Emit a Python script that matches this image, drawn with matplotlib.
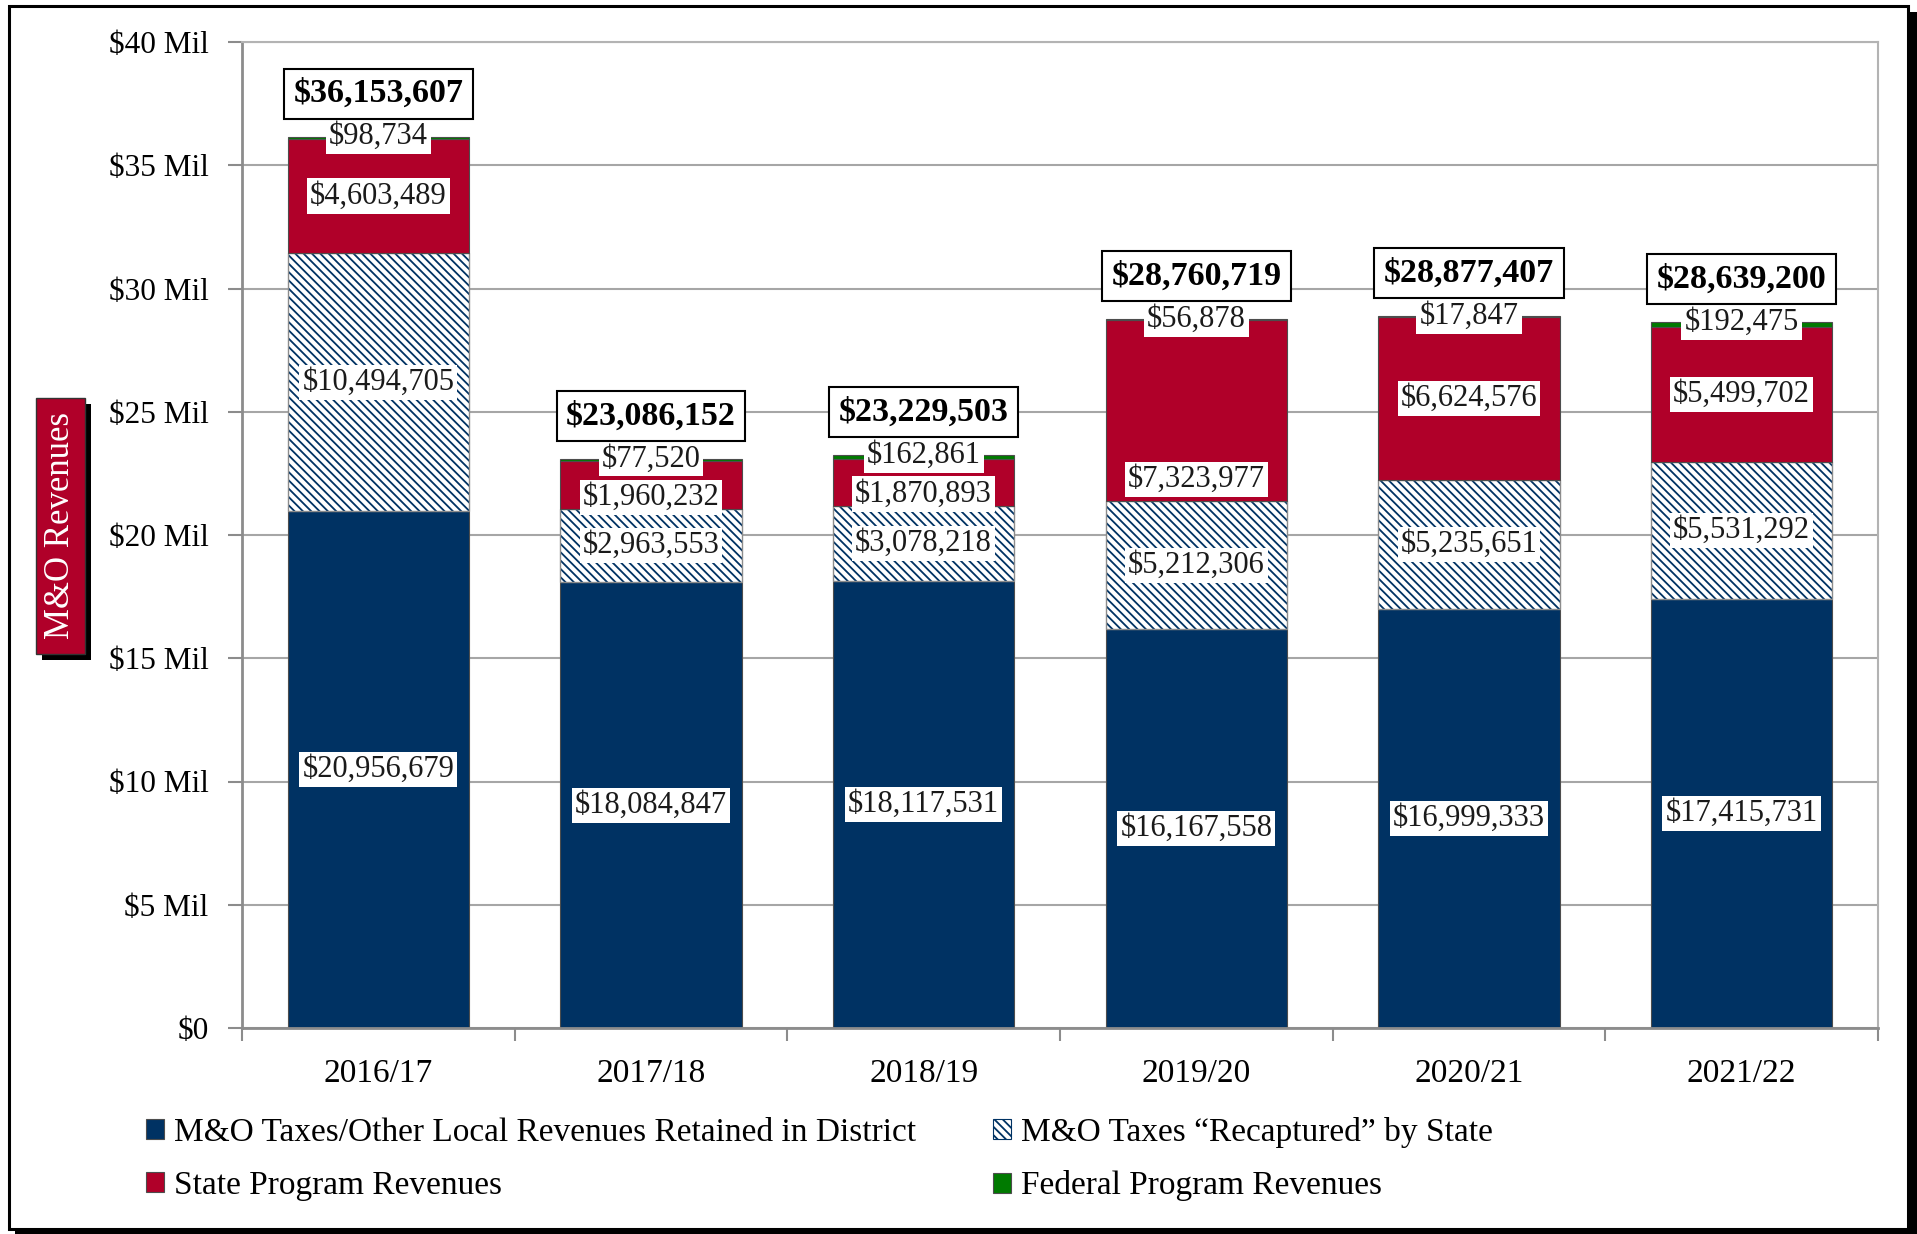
import matplotlib
matplotlib.use('Agg')
import matplotlib.pyplot as plt
import numpy as np
from matplotlib.patches import Rectangle, Patch

plt.rcParams['font.family'] = ['Liberation Serif', 'DejaVu Serif']
plt.rcParams['text.parse_math'] = False
plt.rcParams['hatch.linewidth'] = 1.3

years = ['2016/17', '2017/18', '2018/19', '2019/20', '2020/21', '2021/22']
local = [20956679, 18084847, 18117531, 16167558, 16999333, 17415731]
recaptured = [10494705, 2963553, 3078218, 5212306, 5235651, 5531292]
state = [4603489, 1960232, 1870893, 7323977, 6624576, 5499702]
federal = [98734, 77520, 162861, 56878, 17847, 192475]
totals = [36153607, 23086152, 23229503, 28760719, 28877407, 28639200]
# where the state label sits inside its segment (0 = base, 1 = top)
state_label_pos = [0.5, 0.25, 0.25, 0.12, 0.5, 0.5]

NAVY = '#003263'
RED = '#B00029'
GREEN = '#007A00'
GRID = '#A6A6A6'
HATCH = chr(92) * 4

W, H = 1917, 1234
fig = plt.figure(figsize=(W / 100, H / 100), dpi=100)


def fig_rect(x0, y0, x1, y1, **kw):
    # rectangle given in pixels from the top-left corner
    return Rectangle((x0 / W, 1 - y1 / H), (x1 - x0) / W, (y1 - y0) / H,
                     transform=fig.transFigure, **kw)


# outer frame with a drop shadow
fig.add_artist(fig_rect(15, 12, 1917, 1234, fc='black', ec='none', zorder=-3))
fig.add_artist(fig_rect(9, 6, 1908, 1229, fc='white', ec='black', lw=2.2, zorder=-2))

ax = fig.add_axes([242 / W, 1 - 1028 / H, (1878 - 242) / W, (1028 - 42) / H])
ax.patch.set_alpha(0)

x = np.arange(len(years))
w = 0.665
local = np.array(local)
recaptured = np.array(recaptured)
state = np.array(state)
federal = np.array(federal)
b2 = local + recaptured
b3 = b2 + state

ax.bar(x, local, w, color=NAVY, edgecolor='#4d4d4d', lw=0.8, zorder=2)
ax.bar(x, recaptured, w, bottom=local, color='white', edgecolor=NAVY, hatch=HATCH, lw=0, zorder=2)
ax.bar(x, recaptured, w, bottom=local, fill=False, edgecolor='#8c8c8c', lw=1, zorder=2)
ax.bar(x, state, w, bottom=b2, color=RED, edgecolor='#4d4d4d', lw=0.8, zorder=2)
ax.bar(x, federal, w, bottom=b3, color=GREEN, edgecolor='#4d4d4d', lw=0.8, zorder=2)

lab_kw = dict(ha='center', va='center', fontsize=22, color='#1a1a1a', zorder=5,
              bbox=dict(boxstyle='square,pad=0.1', fc='white', ec='none'))
for i in range(len(years)):
    ax.text(x[i], local[i] / 2, f'${local[i]:,}', **lab_kw)
    ax.text(x[i], local[i] + recaptured[i] / 2, f'${recaptured[i]:,}', **lab_kw)
    ax.text(x[i], b2[i] + state[i] * state_label_pos[i], f'${state[i]:,}', **lab_kw)
    ax.text(x[i], b3[i] + federal[i], f'${federal[i]:,}', **lab_kw)
    ax.text(x[i], totals[i] + 1.75e6, f'${totals[i]:,}', ha='center', va='center',
            fontsize=24.5, fontweight='bold', zorder=6,
            bbox=dict(boxstyle='square,pad=0.28', fc='white', ec='black', lw=1.5))

ax.set_xlim(-0.5, 5.5)
ax.set_ylim(0, 40e6)
ax.set_yticks(np.arange(0, 40e6 + 1, 5e6))
ax.set_yticklabels(['$0'] + [f'${v} Mil' for v in range(5, 41, 5)])
ax.set_xticks(x)
ax.set_xticklabels(years)
ax.set_xticks(np.arange(-0.5, 6, 1), minor=True)
ax.tick_params(axis='x', which='major', length=0, pad=22, labelsize=24)
ax.tick_params(axis='x', which='minor', length=9, width=1.5, color='#8c8c8c')
ax.tick_params(axis='y', length=10, width=1.5, color='#8c8c8c', pad=14, labelsize=22.5)
ax.yaxis.grid(True, color=GRID, lw=1.5)
ax.set_axisbelow(True)
for s in ['left', 'bottom']:
    ax.spines[s].set_color('#8c8c8c')
    ax.spines[s].set_linewidth(2)
for s in ['top', 'right']:
    ax.spines[s].set_color('#b3b3b3')
    ax.spines[s].set_linewidth(1.5)

# y axis title in a red box with a black shadow
fig.add_artist(fig_rect(42, 404, 91, 660, fc='black', ec='none', zorder=3))
fig.add_artist(fig_rect(36, 398, 85, 654, fc=RED, ec='#333333', lw=1, zorder=4))
fig.text(60.5 / W, 1 - 526 / H, 'M&O Revenues', color='white', rotation=90,
         ha='center', va='center', fontsize=25, zorder=5)

leg_kw = dict(loc='center left', frameon=False, fontsize=24, handlelength=0.55,
              handleheight=0.55, handletextpad=0.3, labelspacing=0.68, borderpad=0,
              borderaxespad=0)
h_local = Patch(fc=NAVY, ec='#4d4d4d', lw=0.8)
h_state = Patch(fc=RED, ec='#4d4d4d', lw=0.8)
h_recap = Patch(fc='white', ec=NAVY, hatch=HATCH, lw=0.8)
h_fed = Patch(fc=GREEN, ec='#4d4d4d', lw=0.8)
fig.legend([h_local, h_state], ['M&O Taxes/Other Local Revenues Retained in District',
                                'State Program Revenues'],
           bbox_to_anchor=(146 / W, 1 - 1159 / H), **leg_kw)
fig.legend([h_recap, h_fed], ['M&O Taxes \u201cRecaptured\u201d by State',
                              'Federal Program Revenues'],
           bbox_to_anchor=(993 / W, 1 - 1159 / H), **leg_kw)

fig.savefig('out.png', dpi=100)
